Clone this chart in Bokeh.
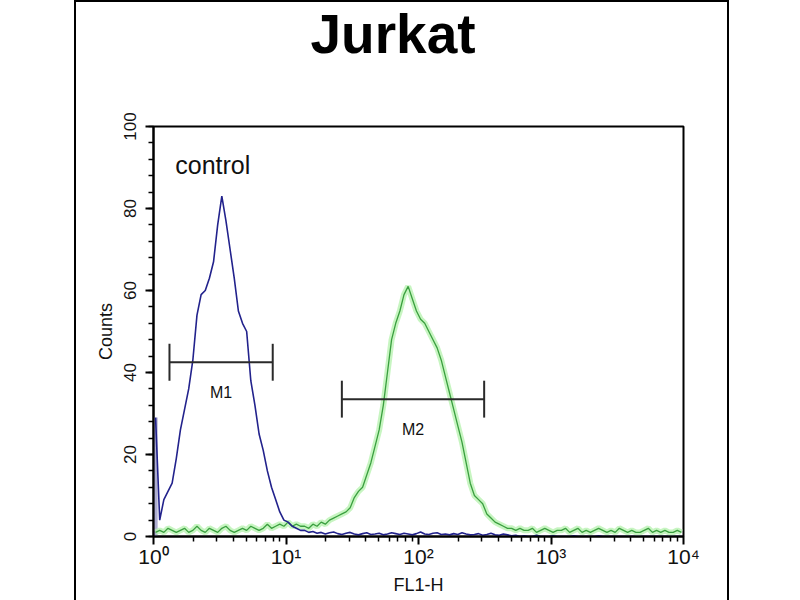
import numpy as np
from bokeh.plotting import figure
from bokeh.models import (Range1d, Label, Title, FixedTicker, SingleIntervalTicker,
                          CustomJSTickFormatter)
from bokeh.embed import file_html
from bokeh.resources import INLINE

# ---------------- data ----------------
title_text = "Jurkat"
control_name = "control"
n_channels = 128          # histogram channels over 4 decades
n_decades = 4

control_counts = [
    29, 4, 9, 11, 13, 19, 26, 31, 36, 43,
    54, 59, 60, 63, 67, 76, 83, 77, 70, 63,
    55, 52, 50, 38, 32, 25, 21, 16, 12, 9,
    6, 4, 3.5, 2.5, 2, 1.5, 1.5, 1, 1.2, 0.8,
    1, 0.6, 0.9, 1.1, 0.7, 0.5, 0.8, 1, 0.6, 0.4,
    0.7, 0.9, 0.5, 0.6, 0.8, 0.4, 0.6, 0.9, 0.7, 0.5,
    0.8, 0.6, 0.4, 0.7, 1.1, 0.6, 0.5, 0.8, 0.9, 0.5,
    0.6, 0.4, 0.7, 0.5, 0.9, 0.6, 0.4, 0.5, 0.7, 0.3,
    0.5, 0.8, 0.4, 0.3, 0.6, 0.4, 0.2, 0.3, 0, 0.2,
    0, 0, 0.3, 0, 0, 0, 0.2, 0, 0, 0,
    0, 0.2, 0, 0, 0, 0, 0, 0.2, 0, 0,
    0, 0, 0, 0, 0, 0, 0, 0, 0, 0,
    0, 0, 0, 0, 0, 0, 0, 0,
]

sample_counts = [
    1, 1.5, 1, 2, 1.5, 1, 1.5, 2, 1, 1.5,
    2.5, 1.5, 1, 2, 1.5, 1, 2, 2.5, 1.5, 1,
    1.5, 2, 1.5, 2.5, 2, 1.5, 2, 3, 2, 2.5,
    3, 2.5, 3.5, 2.5, 3, 2.5, 2.5, 2, 3, 2.5,
    3.5, 3, 4, 4.5, 5, 5.5, 6, 7, 9.5, 11,
    12, 15, 18, 22, 26, 32, 40, 48, 52, 55,
    59, 61, 58, 55, 53, 52, 50, 48, 46, 43,
    39, 35, 31, 27, 23, 18, 13, 10, 9, 8,
    5.5, 4.5, 3.5, 3, 2.5, 2, 2, 1.5, 2, 1.5,
    1.5, 2, 1, 1.5, 2, 1.5, 1, 1.5, 1.5, 2,
    1, 1.5, 2, 1, 1.5, 1, 1.5, 2, 1.5, 1,
    1.5, 1, 2, 1.5, 1, 1.5, 1, 1, 1.5, 2,
    1, 1.5, 1, 1.5, 1, 1, 1.5, 1,
]

marker_names = ["M1", "M2"]
marker_left = [1.32, 26.4]
marker_right = [7.94, 313.0]
marker_level = [42.5, 33.5]

x_ticks = [1, 10, 100, 1000, 10000]
x_tick_exponents = ["\u2070", "\u00b9", "\u00b2", "\u00b3", "\u2074"]
y_label = "Counts"
x_label = "FL1-H"

# ---------------- derived channel positions ----------------
ch = np.arange(n_channels)
edges = 10 ** (np.arange(n_channels + 1) * n_decades / n_channels)
centers = 10 ** ((ch + 0.5) * n_decades / n_channels)

FONT = "Liberation Sans"

# figure placed at (76, 0) on the page; frame edges in figure pixels
OX, OY = 76, 0
W, H = 651, 600
FL, FR, FT, FB = 153 - OX, 683 - OX, 124 - OY, 536 - OY

p = figure(width=W, height=H, x_axis_type="log",
           x_range=Range1d(1, 10000), y_range=Range1d(0, 100),
           output_backend="svg", toolbar_location=None,
           min_border_left=FL, min_border_right=W - FR,
           min_border_top=FT, min_border_bottom=H - FB)
p.margin = (OY, 0, 0, OX)
p.styles = {"box-shadow": "-2px 0 0 0 #000, 2px 0 0 0 #000, inset 0 2px 0 0 #000"}
p.background_fill_color = "white"
p.border_fill_alpha = 0
p.grid.visible = False
p.outline_line_color = "black"
p.outline_line_width = 2

# title: a small blank spacer title sits next to the frame, pushing the main title up
p.add_layout(Title(text="\u00a0", text_font=FONT, text_font_size="10px", standoff=49,
                   text_color="white"), "above")
p.add_layout(Title(text=title_text, align="left", offset=157, standoff=0,
                   text_font=FONT, text_font_size="55px", text_font_style="bold",
                   text_color="black"), "above")

# axes
minor_x = [m * 10 ** k for k in range(4) for m in range(2, 10)]
p.xaxis.ticker = FixedTicker(ticks=x_ticks, minor_ticks=minor_x)
p.xaxis.formatter = CustomJSTickFormatter(
    args=dict(sup=x_tick_exponents),
    code="return '10' + sup[Math.round(Math.log10(tick))];")
p.yaxis.ticker = SingleIntervalTicker(interval=20, num_minor_ticks=5)
for ax in (p.xaxis[0], p.yaxis[0]):
    ax.axis_line_width = 2
    ax.axis_line_color = "black"
    ax.major_tick_line_width = 2
    ax.minor_tick_line_width = 1.5
    ax.major_tick_out = 8
    ax.major_tick_in = 0
    ax.minor_tick_out = 5
    ax.minor_tick_in = 0
    ax.major_label_text_font = FONT
    ax.major_label_text_color = "#111111"
    ax.axis_label_text_font = FONT
    ax.axis_label_text_font_style = "normal"
    ax.axis_label_text_color = "#111111"
    ax.axis_label_text_font_size = "18px"

p.xaxis.major_label_text_font_size = "21px"
p.xaxis.major_label_standoff = 0
p.xaxis.axis_label = x_label
p.xaxis.axis_label_standoff = 4

p.yaxis.major_label_orientation = "vertical"
p.yaxis.major_label_text_font_size = "17px"
p.yaxis.major_label_standoff = 10
p.yaxis.axis_label = y_label
p.yaxis.axis_label_standoff = 5

# histograms
p.quad(left=edges[0], right=edges[1], bottom=0, top=control_counts[0],
       fill_color="#8c8cbc", fill_alpha=0.7, line_color=None)
p.line(centers, sample_counts, line_color="#b9f2b1", line_width=6, line_alpha=0.8)
p.line(centers, sample_counts, line_color="#3a9f3f", line_width=1.3)
p.line(centers, control_counts, line_color="#22228c", line_width=1.6)

# markers
p.segment(x0=marker_left, y0=marker_level, x1=marker_right, y1=marker_level,
          line_color="#2a2a2a", line_width=2)
p.segment(x0=marker_left + marker_right,
          y0=[v - 4.5 for v in marker_level] * 2,
          x1=marker_left + marker_right,
          y1=[v + 4.5 for v in marker_level] * 2,
          line_color="#2a2a2a", line_width=2)
for name, l, r, v in zip(marker_names, marker_left, marker_right, marker_level):
    p.add_layout(Label(x=float(np.sqrt(l * r)), y=v, text=name, text_align="center",
                       text_baseline="top", y_offset=-22, text_font=FONT,
                       text_font_size="16px", text_color="#111111"))

p.add_layout(Label(x=2.8, y=90.5, text=control_name, text_align="center",
                   text_baseline="alphabetic", text_font=FONT, text_font_size="25px",
                   text_color="#111111"))

open("out.html", "w").write(file_html(p, INLINE))
